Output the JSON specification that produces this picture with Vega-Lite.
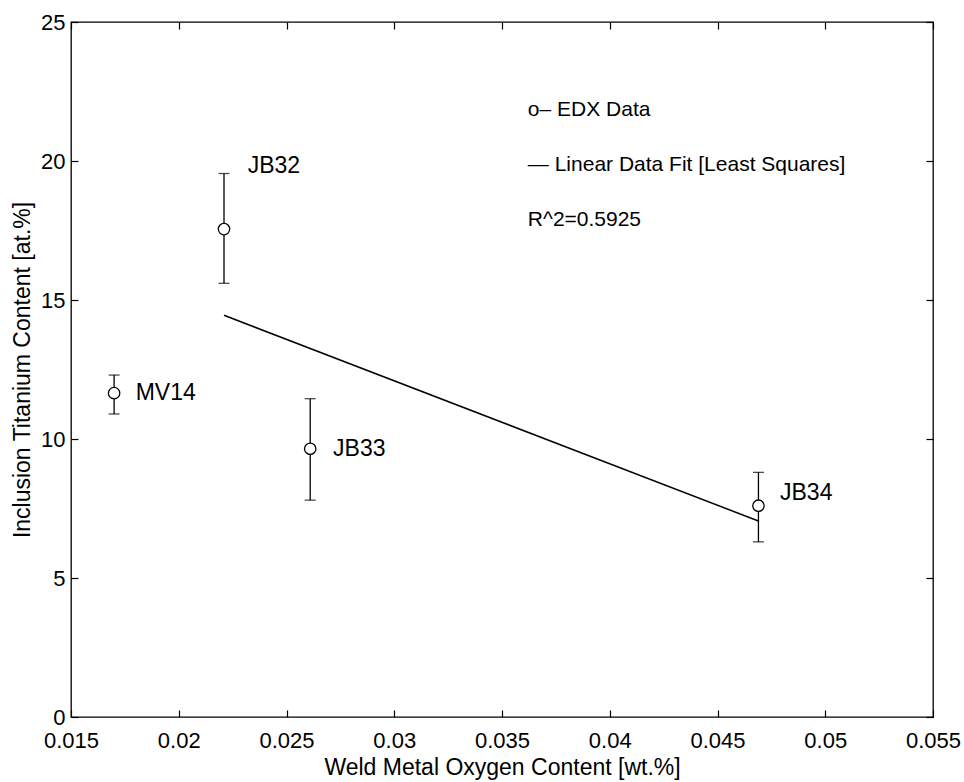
{
  "$schema": "https://vega.github.io/schema/vega-lite/v6.json",
  "autosize": "none",
  "width": 862,
  "height": 695,
  "padding": {"left": 71, "top": 22, "right": 31, "bottom": 65},
  "background": "white",
  "config": {
    "view": {"stroke": "black", "strokeWidth": 1.3},
    "font": "Liberation Sans",
    "axis": {
      "grid": false,
      "domain": false,
      "tickColor": "black",
      "tickSize": -7,
      "tickWidth": 1.2,
      "labelColor": "black",
      "titleColor": "black",
      "labelFont": "Liberation Sans",
      "titleFont": "Liberation Sans",
      "labelFontSize": 22,
      "titleFontSize": 23,
      "titleFontWeight": "normal"
    }
  },
  "datasets": {
    "pts": [
      {"sample": "MV14", "oxygen": 0.0170, "ti": 11.65, "lo": 10.9, "hi": 12.3},
      {"sample": "JB32", "oxygen": 0.0221, "ti": 17.55, "lo": 15.6, "hi": 19.55},
      {"sample": "JB33", "oxygen": 0.0261, "ti": 9.65, "lo": 7.8, "hi": 11.45},
      {"sample": "JB34", "oxygen": 0.0469, "ti": 7.6, "lo": 6.3, "hi": 8.8}
    ],
    "fit": [
      {"oxygen": 0.0221, "ti": 14.45},
      {"oxygen": 0.0469, "ti": 7.05}
    ],
    "labels": [
      {"text": "MV14", "lx": 0.0180, "ly": 11.65},
      {"text": "JB32", "lx": 0.0232, "ly": 19.82},
      {"text": "JB33", "lx": 0.02716, "ly": 9.65},
      {"text": "JB34", "lx": 0.0479, "ly": 8.07}
    ],
    "notes": [
      {"text": "o– EDX Data", "lx": 0.0362, "ly": 21.83},
      {"text": "— Linear Data Fit [Least Squares]", "lx": 0.0362, "ly": 19.86},
      {"text": "R^2=0.5925", "lx": 0.0362, "ly": 17.88}
    ]
  },
  "resolve": {"axis": {"x": "independent", "y": "independent"}},
  "layer": [
    {
      "data": {"name": "fit"},
      "mark": {"type": "line", "color": "black", "strokeWidth": 1.5},
      "encoding": {
        "x": {"field": "oxygen", "type": "quantitative",
              "scale": {"domain": [0.015, 0.055], "nice": false, "zero": false},
              "axis": {"title": "Weld Metal Oxygen Content [wt.%]", "values": [0.015, 0.02, 0.025, 0.03, 0.035, 0.04, 0.045, 0.05, 0.055], "format": "~g", "labelPadding": 20, "titlePadding": 5, "labelFlush": false}},
        "y": {"field": "ti", "type": "quantitative",
              "scale": {"domain": [0, 25], "nice": false, "zero": false},
              "axis": {"title": "Inclusion Titanium Content [at.%]", "values": [0, 5, 10, 15, 20, 25], "labelPadding": 13, "titlePadding": 6, "labelFlush": false}}
      }
    },
    {
      "data": {"name": "pts"},
      "mark": {"type": "point", "opacity": 0},
      "encoding": {
        "x": {"field": "oxygen", "type": "quantitative",
              "axis": {"orient": "top", "title": null, "labels": false, "values": [0.015, 0.02, 0.025, 0.03, 0.035, 0.04, 0.045, 0.05, 0.055]}},
        "y": {"field": "ti", "type": "quantitative",
              "axis": {"orient": "right", "title": null, "labels": false, "values": [0, 5, 10, 15, 20, 25]}}
      }
    },
    {
      "data": {"name": "pts"},
      "mark": {"type": "rule", "color": "black", "strokeWidth": 1.3},
      "encoding": {
        "x": {"field": "oxygen", "type": "quantitative", "axis": null},
        "y": {"field": "lo", "type": "quantitative", "axis": null},
        "y2": {"field": "hi"}
      }
    },
    {
      "data": {"name": "pts"},
      "mark": {"type": "tick", "orient": "horizontal", "size": 11, "thickness": 1.3, "color": "black"},
      "encoding": {
        "x": {"field": "oxygen", "type": "quantitative", "axis": null},
        "y": {"field": "lo", "type": "quantitative", "axis": null}
      }
    },
    {
      "data": {"name": "pts"},
      "mark": {"type": "tick", "orient": "horizontal", "size": 11, "thickness": 1.3, "color": "black"},
      "encoding": {
        "x": {"field": "oxygen", "type": "quantitative", "axis": null},
        "y": {"field": "hi", "type": "quantitative", "axis": null}
      }
    },
    {
      "data": {"name": "pts"},
      "mark": {"type": "point", "shape": "circle", "size": 130, "filled": true, "fill": "white", "stroke": "black", "strokeWidth": 1.3, "opacity": 1},
      "encoding": {
        "x": {"field": "oxygen", "type": "quantitative", "axis": null},
        "y": {"field": "ti", "type": "quantitative", "axis": null}
      }
    },
    {
      "data": {"name": "labels"},
      "mark": {"type": "text", "align": "left", "baseline": "middle", "fontSize": 23, "font": "Liberation Sans", "color": "black"},
      "encoding": {
        "x": {"field": "lx", "type": "quantitative", "axis": null},
        "y": {"field": "ly", "type": "quantitative", "axis": null},
        "text": {"field": "text"}
      }
    },
    {
      "data": {"name": "notes"},
      "mark": {"type": "text", "align": "left", "baseline": "middle", "fontSize": 21, "font": "Liberation Sans", "color": "black"},
      "encoding": {
        "x": {"field": "lx", "type": "quantitative", "axis": null},
        "y": {"field": "ly", "type": "quantitative", "axis": null},
        "text": {"field": "text"}
      }
    }
  ]
}
